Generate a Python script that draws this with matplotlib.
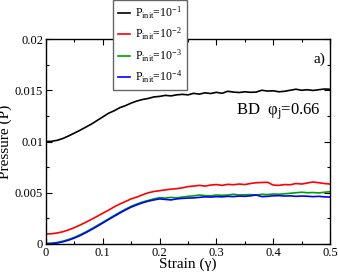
import matplotlib
matplotlib.use("Agg")
import matplotlib.pyplot as plt
import numpy as np
from matplotlib.ticker import MultipleLocator

plt.rcParams['font.family'] = ['Liberation Serif', 'DejaVu Serif']
plt.rcParams['mathtext.fontset'] = 'custom'
plt.rcParams['mathtext.rm'] = 'Liberation Serif'
plt.rcParams['mathtext.it'] = 'Liberation Serif:italic'

strain = [i * 0.01 for i in range(51)]

p_1e1 = [0.01000, 0.01002, 0.01012, 0.01030, 0.01055, 0.01082, 0.01110, 0.01140, 0.01170, 0.01205,
         0.01240, 0.01275, 0.01300, 0.01330, 0.01350, 0.01375, 0.01395, 0.01410, 0.01420, 0.01435,
         0.01440, 0.01450, 0.01445, 0.01455, 0.01460, 0.01455, 0.01470, 0.01462, 0.01475, 0.01468,
         0.01480, 0.01470, 0.01490, 0.01482, 0.01478, 0.01485, 0.01480, 0.01482, 0.01500, 0.01492,
         0.01495, 0.01485, 0.01490, 0.01500, 0.01510, 0.01500, 0.01505, 0.01498, 0.01505, 0.01512,
         0.01510]

p_1e2 = [0.00098, 0.00100, 0.00108, 0.00120, 0.00138, 0.00160, 0.00185, 0.00212, 0.00240, 0.00270,
         0.00300, 0.00330, 0.00362, 0.00390, 0.00415, 0.00440, 0.00458, 0.00480, 0.00500, 0.00512,
         0.00520, 0.00528, 0.00535, 0.00540, 0.00548, 0.00560, 0.00565, 0.00572, 0.00565, 0.00575,
         0.00580, 0.00572, 0.00582, 0.00578, 0.00585, 0.00580, 0.00590, 0.00598, 0.00600, 0.00602,
         0.00575, 0.00572, 0.00580, 0.00578, 0.00590, 0.00585, 0.00595, 0.00605, 0.00598, 0.00590,
         0.00585]

p_1e3 = [0.00005, 0.00008, 0.00015, 0.00028, 0.00045, 0.00065, 0.00090, 0.00118, 0.00148, 0.00180,
         0.00212, 0.00245, 0.00278, 0.00310, 0.00340, 0.00368, 0.00390, 0.00410, 0.00425, 0.00440,
         0.00452, 0.00448, 0.00455, 0.00450, 0.00458, 0.00465, 0.00470, 0.00478, 0.00472, 0.00470,
         0.00478, 0.00475, 0.00478, 0.00485, 0.00478, 0.00480, 0.00482, 0.00478, 0.00485, 0.00482,
         0.00488, 0.00485, 0.00490, 0.00495, 0.00500, 0.00505, 0.00500, 0.00502, 0.00498, 0.00505,
         0.00510]

p_1e4 = [0.00002, 0.00004, 0.00010, 0.00022, 0.00038, 0.00058, 0.00082, 0.00110, 0.00140, 0.00172,
         0.00205, 0.00238, 0.00270, 0.00302, 0.00332, 0.00360, 0.00382, 0.00402, 0.00418, 0.00430,
         0.00440, 0.00435, 0.00430, 0.00440, 0.00445, 0.00448, 0.00450, 0.00455, 0.00460, 0.00458,
         0.00462, 0.00460, 0.00465, 0.00462, 0.00468, 0.00465, 0.00470, 0.00478, 0.00462, 0.00465,
         0.00470, 0.00472, 0.00468, 0.00470, 0.00465, 0.00468, 0.00466, 0.00462, 0.00465, 0.00460,
         0.00458]

labels = [r"P$_{\rm init}$=10$^{-1}$", r"P$_{\rm init}$=10$^{-2}$",
          r"P$_{\rm init}$=10$^{-3}$", r"P$_{\rm init}$=10$^{-4}$"]
colors = ["#000000", "#ff0000", "#00a000", "#0000ff"]
series = [p_1e1, p_1e2, p_1e3, p_1e4]

fig = plt.figure(figsize=(3.38, 2.74), dpi=100)
ax = fig.add_axes([46/338, 30/274, 284/338, 205/274])

for y, c, lab in zip(series, colors, labels):
    ax.plot(strain, y, color=c, lw=1.2, label=lab)

ax.set_xlim(0, 0.5)
ax.set_ylim(0, 0.02)
ax.xaxis.set_minor_locator(MultipleLocator(0.05))
ax.yaxis.set_minor_locator(MultipleLocator(0.0025))
ax.set_xticks([0, 0.1, 0.2, 0.3, 0.4, 0.5])
ax.set_xticklabels(["0", "0.1", "0.2", "0.3", "0.4", "0.5"])
ax.set_yticks([0, 0.005, 0.01, 0.015, 0.02])
ax.set_yticklabels(["0", "0.005", "0.01", "0.015", "0.02"])
ax.tick_params(which='both', direction='in', top=True, right=True, labelsize=9, pad=2)
ax.tick_params(which='major', length=4, width=0.8)
ax.tick_params(which='minor', length=2, width=0.8)
for s in ax.spines.values():
    s.set_linewidth(1.0)

ax.set_xlabel("Strain (γ)", fontsize=11, labelpad=-1)
ax.set_ylabel("Pressure (P)", fontsize=11, labelpad=2)

ax.text(0.492, 0.018, "a)", fontsize=11, ha='right', va='center')
ax.text(0.484, 0.0129, r"BD  φ$_{\rm j}$=0.66", fontsize=12, ha='right', va='center')

leg = fig.legend(loc='upper left', bbox_to_anchor=(113/338, 1.0), bbox_transform=fig.transFigure,
                 borderaxespad=0, fontsize=8.5, handlelength=1.0, handletextpad=0.45,
                 labelspacing=0.42, borderpad=0.4, fancybox=False, framealpha=1)
leg.get_frame().set_edgecolor('#666666')
leg.get_frame().set_linewidth(1.0)

fig.savefig("out.png", dpi=100)
